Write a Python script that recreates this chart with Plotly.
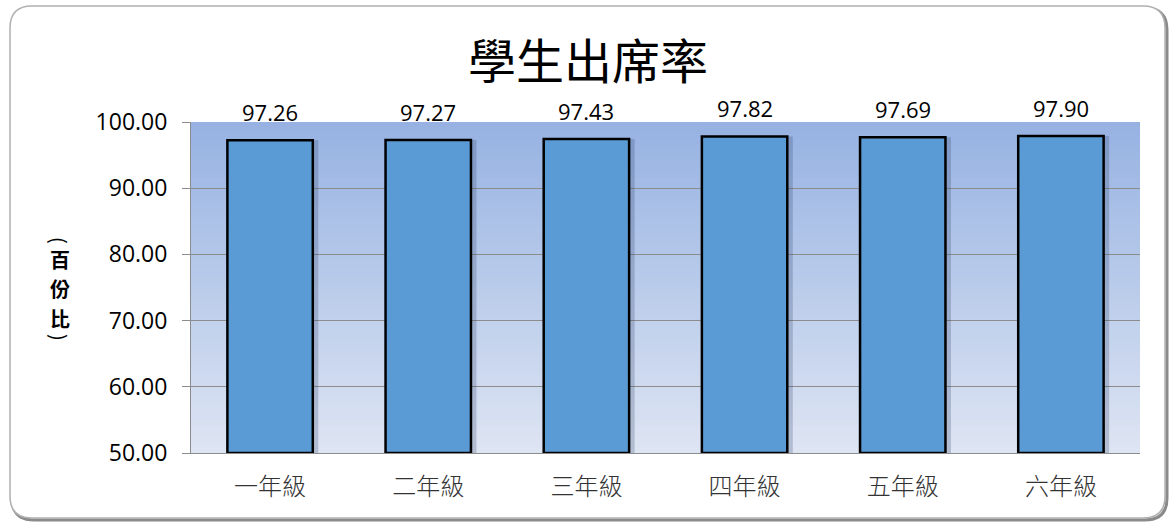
import plotly.graph_objects as go

categories = ["一年級", "二年級", "三年級", "四年級", "五年級", "六年級"]
values = [97.26, 97.27, 97.43, 97.82, 97.69, 97.90]
y_ticks = [50, 60, 70, 80, 90, 100]
y_tick_labels = ["50.00", "60.00", "70.00", "80.00", "90.00", "100.00"]
title_text = "學生出席率"
y_title_chars = ["百", "份", "比"]

W, H = 1170, 522
L, R, T, B = 191, 30, 122, 69
pw, ph = W - L - R, H - T - B

def px(x):
    return (x - L) / pw

def py(y):
    return (H - B - y) / ph

fig = go.Figure()

# soft shadow bars
fig.add_trace(go.Bar(
    x=categories, y=[v - 50 for v in values], base=50, width=0.54, offset=-0.27 + 0.035,
    marker=dict(color="rgba(30,50,90,0.22)", line=dict(width=0)),
    hoverinfo="skip", showlegend=False,
))
fig.add_trace(go.Bar(
    x=categories, y=[v - 50 for v in values], base=50, width=0.54, offset=-0.27,
    marker=dict(color="#5b9bd5", line=dict(color="#000000", width=2.5)),
    showlegend=False,
))

def rounded(x0, y0, x1, y1, r):
    X0, X1 = px(x0), px(x1)
    Y0, Y1 = py(y0), py(y1)
    rx, ry = r / pw, r / ph
    return (f"M {X0+rx},{Y0} L {X1-rx},{Y0} Q {X1},{Y0} {X1},{Y0-ry} "
            f"L {X1},{Y1+ry} Q {X1},{Y1} {X1-rx},{Y1} L {X0+rx},{Y1} "
            f"Q {X0},{Y1} {X0},{Y1+ry} L {X0},{Y0-ry} Q {X0},{Y0} {X0+rx},{Y0} Z")

shapes = []
shapes.append(dict(type="path", xref="paper", yref="paper", path=rounded(12, 8, 1167, 520, 22),
                   line=dict(color="#8a8a8a", width=3), layer="below"))
shapes.append(dict(type="path", xref="paper", yref="paper", path=rounded(10, 6, 1165, 518, 22),
                   line=dict(color="#b0b0b0", width=1.5), fillcolor="white", layer="below"))
# gradient plot background (overlapping strips to avoid seams)
N = 60
top = (150, 178, 226)
bot = (222, 229, 243)
step = 50 / N
for i in range(N):
    t = (i + 0.5) / N
    c = tuple(round(bot[k] + (top[k] - bot[k]) * t) for k in range(3))
    shapes.append(dict(type="rect", xref="paper", yref="y", x0=0, x1=1,
                       y0=50 + step * i, y1=min(100, 50 + step * (i + 1.8)),
                       fillcolor="rgb(%d,%d,%d)" % c, line=dict(width=0), layer="below"))

annotations = []
for c, v in zip(categories, values):
    annotations.append(dict(x=c, y=v, xref="x", yref="y", text=f"{v:.2f}", showarrow=False,
                            yanchor="middle", yshift=28,
                            font=dict(family="Open Sans", size=22, color="#000")))

annotations.append(dict(x=px(588), y=py(58), xref="paper", yref="paper", text=title_text,
                        showarrow=False, yanchor="middle", xanchor="center",
                        font=dict(family="Noto Sans CJK TC", size=48, color="#000")))

ax = px(60)
annotations.append(dict(x=ax, y=py(240), xref="paper", yref="paper", text="(", textangle=90,
                        showarrow=False, xanchor="center", yanchor="middle",
                        font=dict(family="Noto Sans CJK TC", size=20, color="#000")))
for ch, yy in zip(y_title_chars, [259, 288.5, 318]):
    annotations.append(dict(x=ax, y=py(yy), xref="paper", yref="paper", text="<b>%s</b>" % ch,
                            showarrow=False, xanchor="center", yanchor="middle",
                            font=dict(family="Noto Sans CJK TC", size=20, color="#000")))
annotations.append(dict(x=ax, y=py(337), xref="paper", yref="paper", text=")", textangle=90,
                        showarrow=False, xanchor="center", yanchor="middle",
                        font=dict(family="Noto Sans CJK TC", size=20, color="#000")))

fig.update_layout(
    width=W, height=H,
    margin=dict(l=L, r=R, t=T, b=B),
    paper_bgcolor="white", plot_bgcolor="rgba(0,0,0,0)",
    barmode="overlay",
    shapes=shapes, annotations=annotations,
    xaxis=dict(showgrid=False, showline=True, linecolor="#8c8c8c", linewidth=1,
               ticks="", tickfont=dict(family="Noto Sans CJK TC", size=24, color="#333", weight=300),
               ticklabelstandoff=12, range=[-0.5, 5.5]),
    yaxis=dict(range=[50, 100], tickvals=y_ticks, ticktext=y_tick_labels,
               showgrid=True, gridcolor="#8c8c8c", gridwidth=1,
               showline=True, linecolor="#8c8c8c", linewidth=1,
               ticks="outside", ticklen=8, tickcolor="#8c8c8c",
               tickfont=dict(family="Open Sans", size=23, color="#000"),
               ticklabelstandoff=10, zeroline=False),
)

fig.write_html("out.html", config={"displayModeBar": False},
               post_script="document.body.style.margin='0px';")
